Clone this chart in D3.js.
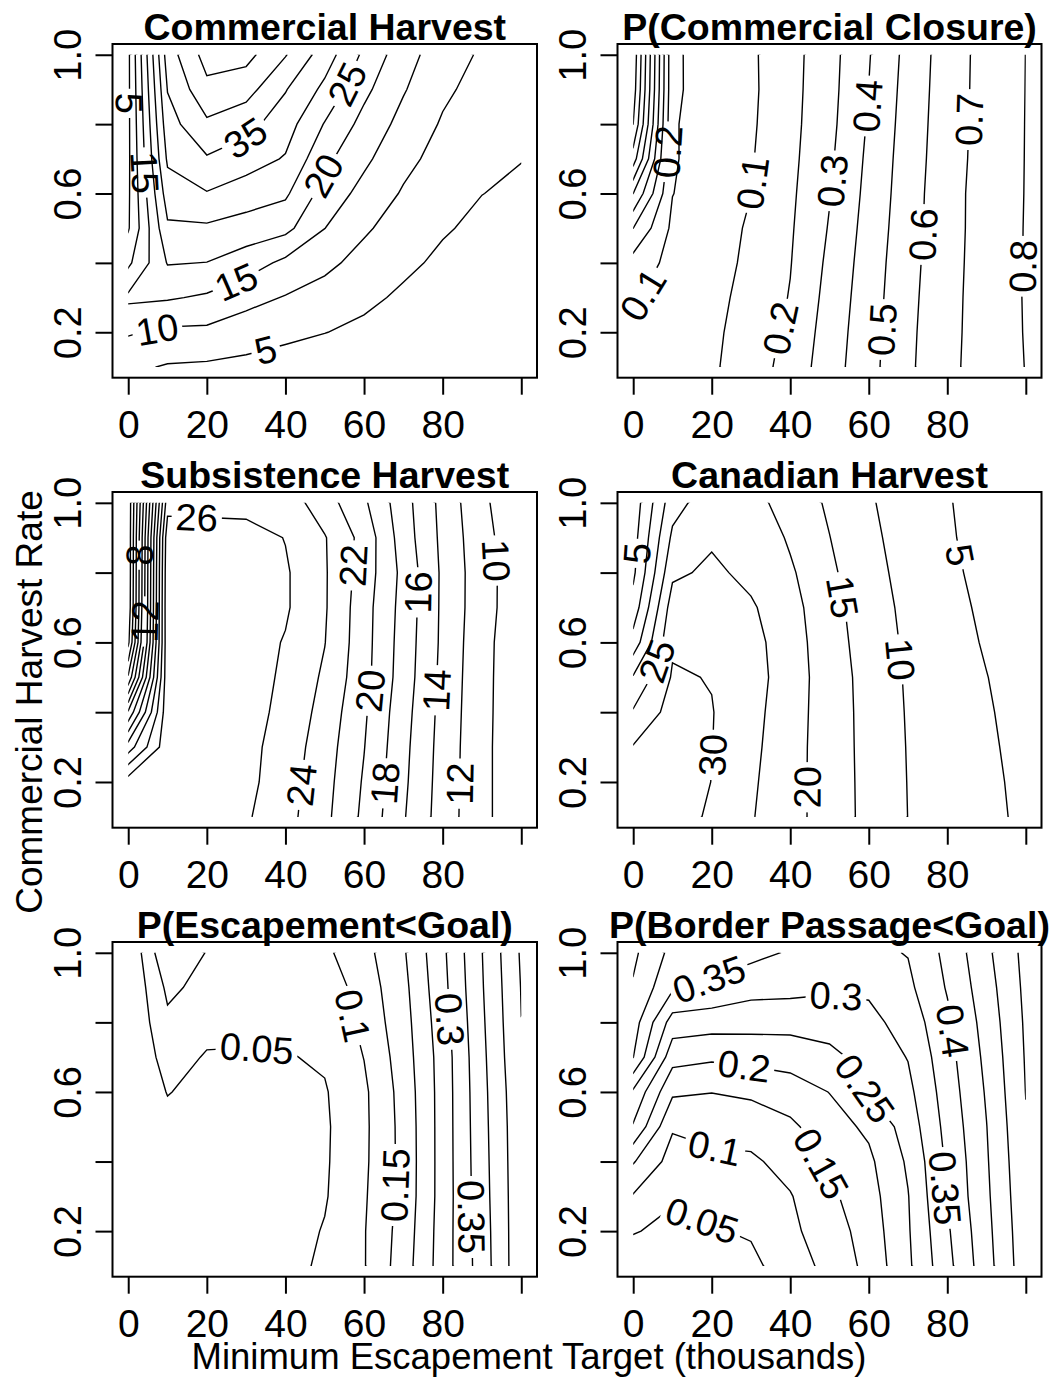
<!DOCTYPE html>
<html>
<head>
<meta charset="utf-8">
<script src="https://cdn.jsdelivr.net/npm/d3@7"></script>
<style>
body { margin: 0; background: #fff; }
svg { display: block; }
</style>
</head>
<body>
<div id="main"></div>
<script>
// grid the model was run on
var xGrid = [0, 10, 20, 30, 40, 50, 60, 70, 80, 90, 100];
var yGrid = [0.1, 0.2, 0.3, 0.4, 0.5, 0.6, 0.7, 0.8, 0.9, 1.0];

var xTicks = [0, 20, 40, 60, 80, 100];
var xTickLabels = ["0", "20", "40", "60", "80", ""];
var yTicks = [0.2, 0.4, 0.6, 0.8, 1.0];
var yTickLabels = ["0.2", "", "0.6", "", "1.0"];

var panelTitles = ["Commercial Harvest", "P(Commercial Closure)", "Subsistence Harvest",
    "Canadian Harvest", "P(Escapement<Goal)", "P(Border Passage<Goal)"];

// each table: rows from rate 1.0 (top) down to 0.1, columns escapement 0..100
var commHarvest = [
    [4, 37.5, 47, 46.6, 40.3, 32.5, 24, 17.1, 12.2, 9.4, 7.5],
    [4, 35.2, 43.7, 41.9, 35.3, 28.8, 21.2, 15.4, 10.9, 8.3, 6.7],
    [4, 33, 39.1, 36.7, 32.2, 24.7, 18.4, 13.4, 9.5, 7.2, 5.9],
    [4, 30.8, 34.5, 32.2, 29.6, 21.2, 16.0, 11.4, 8.2, 6.1, 5.1],
    [4.2, 27.5, 29.7, 27.6, 25.8, 18.0, 13.4, 9.5, 6.8, 5.05, 4.3],
    [4.5, 24.2, 24.2, 22.8, 21.4, 15.05, 10.7, 7.7, 5.45, 4.0, 3.5],
    [9, 20.3, 19.9, 17.5, 13.8, 11.2, 8.3, 6.0, 4.1, 2.9, 2.7],
    [16, 15.5, 14.3, 11.6, 9.7, 8.0, 6.1, 4.2, 2.7, 1.8, 1.9],
    [10.5, 9, 8.9, 7.4, 6.2, 5.1, 3.9, 2.5, 1.4, 0.9, 1.1],
    [6, 4.6, 4.25, 3.7, 2.8, 2.2, 1.7, 0.7, 0.4, 0.3, 0.4]
];
var commHarvestLevels = [5, 10, 15, 20, 25, 30, 35, 40, 45];

var commClosure = [
    [0.97, 0.12, 0.047, 0.085, 0.165, 0.264, 0.394, 0.530, 0.650, 0.735, 0.8007],
    [0.95, 0.12, 0.048, 0.083, 0.167, 0.268, 0.401, 0.537, 0.652, 0.736, 0.8013],
    [0.90, 0.11, 0.05, 0.087, 0.170, 0.274, 0.410, 0.543, 0.655, 0.737, 0.8020],
    [0.75, 0.11, 0.05, 0.093, 0.175, 0.284, 0.420, 0.549, 0.658, 0.739, 0.8025],
    [0.50, 0.102, 0.05, 0.099, 0.182, 0.295, 0.429, 0.554, 0.664, 0.741, 0.8031],
    [0.30, 0.08, 0.05, 0.114, 0.189, 0.307, 0.439, 0.559, 0.665, 0.741, 0.8044],
    [0.16, 0.07, 0.055, 0.124, 0.196, 0.321, 0.448, 0.566, 0.668, 0.742, 0.8050],
    [0.11, 0.06, 0.07, 0.134, 0.205, 0.334, 0.455, 0.572, 0.672, 0.742, 0.8064],
    [0.07, 0.06, 0.08, 0.144, 0.222, 0.345, 0.462, 0.578, 0.674, 0.743, 0.8050],
    [0.05, 0.06, 0.086, 0.153, 0.237, 0.355, 0.467, 0.582, 0.677, 0.744, 0.8023]
];
var commClosureLevels = [0.1, 0.2, 0.3, 0.4, 0.5, 0.6, 0.7, 0.8, 0.9];

var subsHarvest = [
    [0.5, 25.2, 25.2, 25.2, 25.1, 22.9, 20.33, 16.8, 13.39, 10.36, 8.6],
    [0.5, 27.3, 27.1, 26.9, 25.93, 24.13, 21.29, 17.03, 13.52, 10.63, 8.7],
    [0.5, 27.6, 27.2, 27.0, 26.24, 24.2, 21.09, 17.44, 13.65, 10.77, 8.8],
    [0.6, 27.7, 27.3, 27.0, 26.24, 24.2, 20.81, 17.29, 13.64, 10.75, 8.8],
    [1.5, 27.6, 27.3, 26.9, 25.87, 24.05, 20.76, 17.15, 13.6, 10.59, 8.7],
    [6.3, 27.5, 27.3, 26.9, 25.67, 23.68, 20.67, 17.04, 13.48, 10.54, 8.7],
    [14.3, 27.4, 27.2, 26.8, 25.44, 23.29, 20.29, 16.77, 13.35, 10.51, 8.7],
    [21, 27.3, 27.1, 26.6, 25.13, 22.93, 20.06, 16.56, 13.24, 10.47, 8.7],
    [27, 27.2, 27.0, 26.55, 24.89, 22.7, 19.79, 16.4, 13.15, 10.47, 8.7],
    [27.2, 27.1, 26.9, 26.23, 24.7, 22.5, 19.56, 16.18, 13.08, 10.47, 8.7]
];
var subsHarvestLevels = [2, 4, 6, 8, 10, 12, 14, 16, 18, 20, 22, 24, 26];

var canHarvest = [
    [2, 18, 23, 21.65, 17.98, 14.28, 10.49, 7.83, 5.33, 3.0, 0.8],
    [3, 21, 24.3, 23.6, 19.36, 15.09, 11.02, 8.12, 5.6, 3.1, 1.0],
    [4, 24, 26, 23.7, 20.69, 15.95, 11.58, 8.48, 6.03, 3.55, 1.2],
    [7, 27.5, 27.5, 25.63, 21.67, 16.81, 12.21, 8.88, 6.48, 4.1, 1.6],
    [12, 29.3, 29, 26.76, 22.13, 17.24, 12.69, 9.19, 6.88, 4.56, 2.3],
    [20.5, 30.5, 29.8, 27.2, 22.3, 17.59, 13.18, 9.46, 7.28, 5.1, 2.9],
    [25.5, 32, 30.2, 26.65, 22.06, 17.61, 13.37, 9.64, 7.54, 5.44, 3.3],
    [30.3, 33, 30.1, 26.22, 21.87, 17.58, 13.48, 9.78, 7.74, 5.71, 3.6],
    [33, 33.8, 29.9, 25.76, 21.76, 17.63, 13.56, 9.88, 7.91, 5.94, 3.9],
    [34, 34.5, 28.5, 25.36, 21.72, 17.7, 13.6, 9.96, 8.03, 6.1, 4.1]
];
var canHarvestLevels = [5, 10, 15, 20, 25, 30];

var pEscape = [
    [0.002, 0.147, 0.0975, 0.08, 0.085, 0.09, 0.134, 0.194, 0.29, 0.399, 0.506],
    [0.002, 0.11, 0.085, 0.07, 0.066, 0.068, 0.123, 0.186, 0.285, 0.396, 0.502],
    [0.002, 0.09, 0.065, 0.058, 0.06, 0.054, 0.115, 0.18, 0.278, 0.392, 0.4995],
    [0.002, 0.07, 0.046, 0.047, 0.047, 0.056, 0.101, 0.175, 0.272, 0.388, 0.496],
    [0.002, 0.052, 0.035, 0.03, 0.035, 0.046, 0.091, 0.169, 0.271, 0.385, 0.49],
    [0.002, 0.035, 0.025, 0.022, 0.027, 0.043, 0.09, 0.166, 0.271, 0.383, 0.487],
    [0.002, 0.03, 0.022, 0.02, 0.026, 0.044, 0.091, 0.165, 0.271, 0.381, 0.486],
    [0.002, 0.028, 0.02, 0.02, 0.026, 0.046, 0.094, 0.166, 0.271, 0.379, 0.485],
    [0.002, 0.027, 0.02, 0.022, 0.03, 0.053, 0.097, 0.171, 0.273, 0.376, 0.485],
    [0.002, 0.027, 0.02, 0.025, 0.035, 0.058, 0.097, 0.176, 0.274, 0.374, 0.485]
];
var pEscapeLevels = [0.05, 0.1, 0.15, 0.2, 0.25, 0.3, 0.35, 0.4, 0.45, 0.5];

var pBorder = [
    [0.46, 0.385, 0.37, 0.364, 0.345, 0.325, 0.34, 0.352, 0.413, 0.489, 0.565],
    [0.445, 0.358, 0.342, 0.318, 0.315, 0.307, 0.308, 0.339, 0.404, 0.479, 0.561],
    [0.423, 0.278, 0.271, 0.268, 0.267, 0.273, 0.286, 0.32, 0.39, 0.47, 0.557],
    [0.401, 0.218, 0.208, 0.215, 0.22, 0.236, 0.269, 0.302, 0.382, 0.462, 0.554],
    [0.291, 0.158, 0.151, 0.159, 0.176, 0.201, 0.252, 0.287, 0.374, 0.455, 0.551],
    [0.245, 0.105, 0.116, 0.12, 0.14, 0.18, 0.209, 0.272, 0.366, 0.449, 0.546],
    [0.154, 0.08, 0.089, 0.092, 0.117, 0.16, 0.19, 0.257, 0.358, 0.445, 0.541],
    [0.096, 0.057, 0.067, 0.074, 0.097, 0.14, 0.18, 0.248, 0.354, 0.441, 0.537],
    [0.054, 0.034, 0.046, 0.0555, 0.09, 0.125, 0.172, 0.245, 0.343, 0.436, 0.533],
    [0.0125, 0.011, 0.024, 0.037, 0.078, 0.113, 0.165, 0.241, 0.335, 0.431, 0.53]
];
var pBorderLevels = [0.05, 0.1, 0.15, 0.2, 0.25, 0.3, 0.35, 0.4, 0.45, 0.5, 0.55];

// where the contour labels sit: [level, escapement, rate]
var commHarvestLabels = [[5, 1.4, 0.86], [15, 3.5, 0.66], [35, 29.4, 0.77], [25, 56, 0.914],
    [20, 49.3, 0.654], [15, 27.3, 0.35], [10, 7.7, 0.19], [5, 35.3, 0.135]];
var commClosureLabels = [[0.2, 9.4, 0.72], [0.1, 3.8, 0.3], [0.1, 31, 0.63], [0.2, 37.9, 0.21],
    [0.3, 52.3, 0.635], [0.4, 61.3, 0.851], [0.5, 64.3, 0.207], [0.6, 74.9, 0.481],
    [0.7, 86, 0.813], [0.8, 100.4, 0.39]];
var subsHarvestLabels = [[26, 17.4, 0.947], [24, 45.5, 0.19], [22, 58.2, 0.82], [20, 62.4, 0.46],
    [18, 66.7, 0.195], [16, 74.3, 0.743], [14, 79.9, 0.462], [12, 85.4, 0.195], [10, 93.9, 0.835],
    [8, 1.3, 0.85], [12, 3.8, 0.66]];
var canHarvestLabels = [[5, 1.3, 0.855], [25, 6.8, 0.544], [30, 20.9, 0.277], [20, 45.5, 0.185],
    [15, 52.3, 0.728], [10, 66, 0.549], [5, 83, 0.85]];
var pEscapeLabels = [[0.05, 32.7, 0.721], [0.1, 56.1, 0.817], [0.15, 69.2, 0.332],
    [0.3, 81.1, 0.808], [0.35, 88.4, 0.241]];
var pBorderLabels = [[0.35, 20, 0.909], [0.3, 51.5, 0.861], [0.2, 28.1, 0.659], [0.25, 59.1, 0.611],
    [0.1, 20.9, 0.452], [0.15, 47.2, 0.39], [0.05, 17.4, 0.227], [0.4, 80, 0.774], [0.35, 77.9, 0.323]];

var ctx = {
    w: 1050,
    h: 1377,
    font: "'Liberation Sans', Arial, Helvetica, sans-serif",
    colX: [[112.5, 537], [617.5, 1041.5]],
    rowY: [[44, 377.7], [492, 827.7], [942, 1276.7]],
    xDomain: [-4, 104],
    yDomain: [0.069, 1.031],
    tick: 17,
    xTickSize: 39,
    xTickGap: 60,
    yTickSize: 38,
    labSize: 38,
    numScale: 1,
};

var panels = [
    {z: commHarvest, levels: commHarvestLevels, labels: commHarvestLabels},
    {z: commClosure, levels: commClosureLevels, labels: commClosureLabels},
    {z: subsHarvest, levels: subsHarvestLevels, labels: subsHarvestLabels},
    {z: canHarvest, levels: canHarvestLevels, labels: canHarvestLabels},
    {z: pEscape, levels: pEscapeLevels, labels: pEscapeLabels},
    {z: pBorder, levels: pBorderLevels, labels: pBorderLabels}
];

// walk along a ring from the snapped point, stopping at the data border
var walk = function(best, dir, len, inside) {
    var r = best.r, n = r.length - 1;
    var cx = best.x, cy = best.y;
    var idx = dir > 0 ? best.k + 1 : best.k;
    for (var s = 0; s < n; s++) {
        var v = r[((idx % n) + n) % n];
        if (!inside(v)) break;
        var d = Math.hypot(v[0] - cx, v[1] - cy);
        if (d >= len) {
            var f = len / d;
            return [cx + f * (v[0] - cx), cy + f * (v[1] - cy)];
        }
        len -= d; cx = v[0]; cy = v[1];
        idx += dir;
    }
    return [cx, cy];
};

var snapLabel = function(rings, px, py, half, inside) {
    var best = null;
    rings.forEach(function(r) {
        for (var k = 0; k < r.length - 1; k++) {
            var a = r[k], b = r[k + 1];
            if (!inside(a) || !inside(b)) continue;
            var dx = b[0] - a[0], dy = b[1] - a[1], l2 = dx * dx + dy * dy;
            if (l2 === 0) continue;
            var t = Math.max(0, Math.min(1, ((px - a[0]) * dx + (py - a[1]) * dy) / l2));
            var qx = a[0] + t * dx, qy = a[1] + t * dy;
            var d = (qx - px) * (qx - px) + (qy - py) * (qy - py);
            if (!best || d < best.d) best = {d: d, r: r, k: k, x: qx, y: qy};
        }
    });
    if (!best) return null;
    var A = walk(best, -1, half, inside), B = walk(best, 1, half, inside);
    var ang = Math.atan2(B[1] - A[1], B[0] - A[0]) * 180 / Math.PI;
    if (ang > 90) ang -= 180;
    else if (ang <= -90) ang += 180;
    return {x: best.x, y: best.y, a: ang};
};

var drawPanel = function(svg, defs, p, idx) {
    var col = idx % 2, row = Math.floor(idx / 2);
    var xr = ctx.colX[col], yr = ctx.rowY[row];
    var xScale = d3.scaleLinear().domain(ctx.xDomain).range(xr);
    var yScale = d3.scaleLinear().domain(ctx.yDomain).range([yr[1], yr[0]]);
    var nx = xGrid.length, ny = yGrid.length;
    // d3.contours puts cell i at i + 0.5
    var gx = d3.scaleLinear().domain([0.5, nx - 0.5]).range([xScale(xGrid[0]), xScale(xGrid[nx - 1])]);
    var gy = d3.scaleLinear().domain([0.5, ny - 0.5]).range([yScale(yGrid[0]), yScale(yGrid[ny - 1])]);
    var values = [];
    for (var j = 0; j < ny; j++) values = values.concat(p.z[ny - 1 - j]);
    var contours = d3.contours().size([nx, ny]).thresholds(p.levels)(values);
    var path = d3.geoPath(d3.geoTransform({
        point: function(x, y) { this.stream.point(gx(x), gy(y)); }
    }));

    var ax0 = xScale(xGrid[0]), ax1 = xScale(xGrid[nx - 1]);
    var ay0 = yScale(yGrid[ny - 1]), ay1 = yScale(yGrid[0]);
    var inside = function(q) {
        return q[0] >= ax0 - 0.5 && q[0] <= ax1 + 0.5 && q[1] >= ay0 - 0.5 && q[1] <= ay1 + 0.5;
    };
    defs.append("clipPath").attr("id", "clip" + idx)
        .append("rect").attr("x", ax0).attr("y", ay0).attr("width", ax1 - ax0).attr("height", ay1 - ay0);

    var g = svg.append("g");
    var lineG = g.append("g");
    var labG = g.append("g")
        .attr("font-family", ctx.font)
        .attr("font-size", ctx.labSize)
        .attr("text-anchor", "middle");

    // labels: snap to their line, turn along it, and cut a gap in that line only
    var gaps = {};
    p.labels.forEach(function(lab) {
        var ci = p.levels.indexOf(lab[0]);
        if (ci < 0) return;
        var rings = [];
        contours[ci].coordinates.forEach(function(poly) {
            poly.forEach(function(r) {
                rings.push(r.map(function(q) { return [gx(q[0]), gy(q[1])]; }));
            });
        });
        var txt = labG.append("text").text(String(lab[0]));
        var len = txt.node().getComputedTextLength() * ctx.numScale;
        var spot = snapLabel(rings, xScale(lab[1]), yScale(lab[2]), len / 2 + 3, inside);
        if (!spot) { txt.remove(); return; }
        txt.attr("dy", "0.36em")
            .attr("transform", "translate(" + spot.x + "," + spot.y + ") rotate(" + spot.a + ") scale(" + ctx.numScale + ",1)");
        (gaps[ci] = gaps[ci] || []).push({x: spot.x, y: spot.y, a: spot.a, w: len + 8, h: ctx.labSize * 0.8});
    });

    contours.forEach(function(c, ci) {
        var line = lineG.append("path")
            .attr("d", path(c))
            .attr("fill", "none")
            .attr("stroke", "#000")
            .attr("stroke-width", 1.4)
            .attr("clip-path", "url(#clip" + idx + ")");
        if (gaps[ci]) {
            var id = "gap" + idx + "_" + ci;
            var m = defs.append("mask").attr("id", id).attr("maskUnits", "userSpaceOnUse")
                .attr("x", 0).attr("y", 0).attr("width", ctx.w).attr("height", ctx.h);
            m.append("rect").attr("width", ctx.w).attr("height", ctx.h).attr("fill", "#fff");
            gaps[ci].forEach(function(gp) {
                m.append("rect")
                    .attr("x", -gp.w / 2).attr("y", -gp.h / 2)
                    .attr("width", gp.w).attr("height", gp.h)
                    .attr("fill", "#000")
                    .attr("transform", "translate(" + gp.x + "," + gp.y + ") rotate(" + gp.a + ")");
            });
            line.attr("mask", "url(#" + id + ")");
        }
    });

    // box
    g.append("rect")
        .attr("x", xr[0]).attr("y", yr[0])
        .attr("width", xr[1] - xr[0]).attr("height", yr[1] - yr[0])
        .attr("fill", "none").attr("stroke", "#000").attr("stroke-width", 2);

    // axes
    var xa = g.append("g").attr("transform", "translate(0," + yr[1] + ")")
        .call(d3.axisBottom(xScale).tickValues(xTicks).tickSize(ctx.tick)
            .tickFormat(function(d, i) { return xTickLabels[i]; }));
    xa.select(".domain").remove();
    xa.selectAll("line").attr("stroke", "#000").attr("stroke-width", 2);
    xa.selectAll("text")
        .attr("y", ctx.xTickGap).attr("dy", null).attr("fill", "#000")
        .attr("font-family", ctx.font).attr("font-size", ctx.xTickSize);

    var ya = g.append("g").attr("transform", "translate(" + xr[0] + ",0)")
        .call(d3.axisLeft(yScale).tickValues(yTicks).tickSize(ctx.tick)
            .tickFormat(function(d, i) { return yTickLabels[i]; }));
    ya.select(".domain").remove();
    ya.selectAll("line").attr("stroke", "#000").attr("stroke-width", 2);
    ya.selectAll("text")
        .attr("x", 0).attr("dy", null).attr("text-anchor", "middle").attr("fill", "#000")
        .attr("font-family", ctx.font).attr("font-size", ctx.yTickSize)
        .attr("transform", "translate(-32,0) rotate(-90)");

    // title
    g.append("text")
        .attr("x", (xr[0] + xr[1]) / 2)
        .attr("y", yr[0] - 4.5)
        .attr("text-anchor", "middle")
        .attr("font-family", ctx.font)
        .attr("font-weight", "bold")
        .attr("font-size", 37.5)
        .text(panelTitles[idx]);
};

var createViz = function() {
    var svg = d3.select("#main").append("svg")
        .attr("width", ctx.w)
        .attr("height", ctx.h);
    svg.append("rect").attr("width", ctx.w).attr("height", ctx.h).attr("fill", "#fff");
    var defs = svg.append("defs");
    panels.forEach(function(p, i) { drawPanel(svg, defs, p, i); });
    // shared axis titles
    svg.append("text")
        .attr("transform", "translate(42,702) rotate(-90)")
        .attr("text-anchor", "middle")
        .attr("font-family", ctx.font)
        .attr("font-size", 37)
        .text("Commercial Harvest Rate");
    svg.append("text")
        .attr("x", 529)
        .attr("y", 1369)
        .attr("text-anchor", "middle")
        .attr("font-family", ctx.font)
        .attr("font-size", 36.5)
        .text("Minimum Escapement Target (thousands)");
};

createViz();
</script>
</body>
</html>
